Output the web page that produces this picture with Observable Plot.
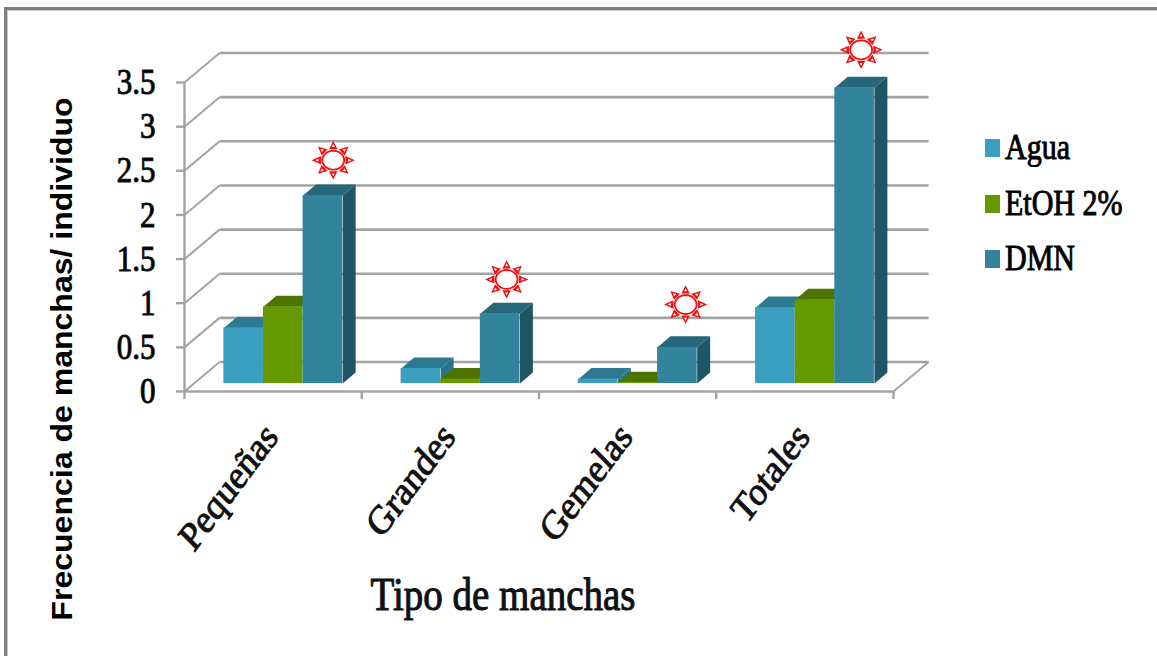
<!DOCTYPE html>
<html lang="es">
<head>
<meta charset="utf-8">
<script src="https://cdn.jsdelivr.net/npm/d3@7"></script>
<script src="https://cdn.jsdelivr.net/npm/@observablehq/plot@0.6"></script>
<style>
  html, body { margin: 0; padding: 0; background: #fff; }
  #page { position: relative; width: 1157px; height: 656px; overflow: hidden; }
  #page svg { position: absolute; left: 0; top: 0; }
  #edge { position: absolute; left: 4px; top: 7px; right: 0; bottom: 0;
          border-left: 3px solid #808080; border-top: 3px solid #808080;
          box-shadow: inset 1px 1px 0 #c8c8c8; }
  #legend { position: absolute; left: 985px; top: 128px; font-family: "Liberation Serif", serif; }
  #legend div { position: relative; height: 55.5px; }
  #legend i { position: absolute; left: 0; top: 11px; width: 15px; height: 18px; }
  #legend span { position: absolute; left: 20px; top: -1px; font-size: 30px; line-height: 40px; white-space: nowrap;
                 -webkit-text-stroke: 0.8px #000; transform: scaleY(1.17); transform-origin: 0 50%; }
</style>
</head>
<body>
<div id="page">
  <div id="edge"></div>
  <div id="legend"></div>
</div>
<script>
// Spot frequency per individual, by spot type and treatment
const categories = ["Pequeñas", "Grandes", "Gemelas", "Totales"];
const agua = [0.63, 0.17, 0.05, 0.86];
const etoh = [0.87, 0.05, 0.01, 0.95];
const dmn = [2.13, 0.79, 0.41, 3.35];
const seriesNames = ["Agua", "EtOH 2%", "DMN"];
const seriesValues = [agua, etoh, dmn];
const faceColors = ["#3a9fbf", "#669900", "#31849b"];
const topColors = ["#2c7a91", "#4e7400", "#266779"];
const sideColors = ["#2a7488", "#4c7000", "#1f5566"];
const yTicks = [0, 0.5, 1, 1.5, 2, 2.5, 3, 3.5];
const xTicks = [0, 1, 2, 3, 4];
// where each significance sun sits relative to its DMN bar
const sunLift = [0.49, 0.48, 0.575, 0.52];
const sunShift = [0.022, 0, 0.01, 0];

// Depth of the chart box and of the bars, in axis units
const wallDx = 0.198, wallDy = 0.334;
const barDx = 0.073, barDy = 0.125;
const barFloorDy = 0.09;
const barStart = 0.222, barWidth = 0.2235;

const gridColor = "#a3a3a3";
const sunRed = "#f01010";
const serif = "'Liberation Serif', serif";

const barLeft = (c, s) => c + barStart + s * barWidth;

// Top and side faces as closed polygons, front faces as rects
function depthFaces(values, s) {
  const polys = [];
  values.forEach((v, c) => {
    const x0 = barLeft(c, s), x1 = x0 + barWidth;
    const y0 = barFloorDy, y1 = v + barFloorDy;
    const top = [[x0, y1], [x1, y1], [x1 + barDx, y1 + barDy], [x0 + barDx, y1 + barDy]];
    const side = [[x1, y0], [x1, y1], [x1 + barDx, y1 + barDy], [x1 + barDx, y0 + barDy]];
    top.forEach(([x, y]) => polys.push({x, y, id: `${c}-top`, color: topColors[s]}));
    side.forEach(([x, y]) => polys.push({x, y, id: `${c}-side`, color: sideColors[s]}));
  });
  return polys;
}

function barMarks(values, s) {
  return [
    Plot.line(depthFaces(values, s), {x: "x", y: "y", z: "id", fill: "color", stroke: "none"}),
    Plot.rect(values, {
      x1: (v, c) => barLeft(c, s),
      x2: (v, c) => barLeft(c, s) + barWidth,
      y1: barFloorDy,
      y2: (v) => v + barFloorDy,
      fill: faceColors[s]
    })
  ];
}

// Sun marker parts: eight triangular rays (flattened like the oval) and the oval itself
const raySymbol = (inner, tip, half) => ({
  draw(ctx, size) {
    const r = Math.sqrt(size / Math.PI);
    for (let a = 0; a < 360; a += 45) {
      const t = a * Math.PI / 180;
      const cos = Math.cos(t), sin = Math.sin(t);
      const w = half * r;
      const bx = cos * r * inner, by = sin * r * inner * 0.9;
      ctx.moveTo(bx - sin * w, by + cos * w);
      ctx.lineTo(cos * r * tip, sin * r * tip * 0.89);
      ctx.lineTo(bx + sin * w, by - cos * w);
      ctx.closePath();
    }
  }
});
const ovalSymbol = {
  draw(ctx, size) {
    const r = Math.sqrt(size / Math.PI);
    const rx = r * 0.52, ry = r * 0.45;
    ctx.moveTo(rx, 0);
    for (let a = 10; a < 360; a += 10) {
      const t = a * Math.PI / 180;
      ctx.lineTo(rx * Math.cos(t), ry * Math.sin(t));
    }
    ctx.closePath();
  }
};
const sunX = (v, c) => barLeft(c, 2) + (barWidth + barDx) / 2 + sunShift[c];
const sunY = (v, c) => v + sunLift[c];

const chart = Plot.plot({
  width: 1157,
  height: 656,
  marginLeft: 184,
  marginRight: 264,
  marginTop: 82,
  marginBottom: 265,
  style: {background: "transparent", overflow: "visible"},
  x: {domain: [0, 4], axis: null},
  y: {domain: [0, 3.5], axis: null},
  marks: [
    // back wall lines
    Plot.link(yTicks, {
      x1: wallDx, x2: 4 + wallDx, y1: (d) => d + wallDy, y2: (d) => d + wallDy,
      stroke: gridColor, strokeWidth: 2.6
    }),
    // side wall lines running to the front axis
    Plot.link(yTicks, {
      x1: 0, x2: wallDx, y1: (d) => d, y2: (d) => d + wallDy,
      stroke: gridColor, strokeWidth: 2
    }),
    // floor edges
    Plot.link([0], {
      x1: 4, x2: 4 + wallDx, y1: 0, y2: wallDy, stroke: gridColor, strokeWidth: 2
    }),
    Plot.ruleX([0], {y1: 0, y2: 3.5, stroke: gridColor, strokeWidth: 2.4}),
    Plot.ruleY([0], {x1: 0, x2: 4, stroke: gridColor, strokeWidth: 2.6}),
    Plot.axisY({
      ticks: yTicks, tickSize: 8, tickPadding: 21, stroke: gridColor, strokeWidth: 2.4,
      fontSize: 31, fontFamily: serif, fill: "#000", label: null, tickFormat: (d) => String(d)
    }),
    Plot.axisX({
      ticks: xTicks, tickSize: 8, stroke: gridColor, strokeWidth: 2.4,
      tickFormat: () => "", label: null
    }),
    ...seriesValues.flatMap(barMarks),
    // significance suns above the DMN bars
    Plot.dot(dmn, {x: sunX, y: sunY, r: 21, symbol: raySymbol(0.58, 1.03, 0.2), fill: sunRed, stroke: "none"}),
    Plot.dot(dmn, {x: sunX, y: sunY, r: 21, symbol: raySymbol(0.7, 0.86, 0.07), fill: "#fff", stroke: "none"}),
    Plot.dot(dmn, {x: sunX, y: sunY, r: 21, symbol: ovalSymbol, fill: "#fff", stroke: sunRed, strokeWidth: 1.8}),
    // rotated category labels
    Plot.text(categories, {
      x: (d, i) => i + 0.5,
      y: 0,
      text: (d) => d,
      rotate: -49,
      textAnchor: "end",
      dx: -2,
      dy: 38,
      fontSize: 34.5,
      fontFamily: serif,
      fill: "#111"
    }),
    // axis titles
    Plot.text(["Tipo de manchas"], {
      frameAnchor: "bottom",
      textAnchor: "middle",
      dx: -36,
      dy: 218,
      fontSize: 39,
      fontFamily: serif,
      fill: "#111"
    }),
    Plot.text(["Frecuencia de manchas/ individuo"], {
      frameAnchor: "left",
      textAnchor: "middle",
      dx: -122,
      dy: 122,
      rotate: -90,
      fontSize: 29,
      fontWeight: "bold",
      fontFamily: "'Liberation Sans', sans-serif",
      fill: "#000"
    })
  ]
});

// Taller letterforms on every label, and heavier serif strokes
chart.querySelectorAll("text").forEach((t) => {
  const family = t.closest("[font-family]")?.getAttribute("font-family") ?? "";
  const isSerif = family.includes("Serif");
  const stretch = isSerif ? 1.17 : 1.105;
  const tf = t.getAttribute("transform") ?? "";
  const m = tf.match(/^(translate\([^)]*\))(.*)$/);
  t.setAttribute("transform", m ? `${m[1]} scale(1,${stretch})${m[2]}` : `${tf} scale(1,${stretch})`);
  if (isSerif) {
    t.style.stroke = "#111";
    t.style.strokeWidth = "0.9px";
  }
});

document.getElementById("page").appendChild(chart);

const legend = document.getElementById("legend");
seriesNames.forEach((name, s) => {
  const row = document.createElement("div");
  const swatch = document.createElement("i");
  swatch.style.background = faceColors[s];
  const label = document.createElement("span");
  label.textContent = name;
  row.append(swatch, label);
  legend.appendChild(row);
});
document.getElementById("page").appendChild(legend);
</script>
</body>
</html>
